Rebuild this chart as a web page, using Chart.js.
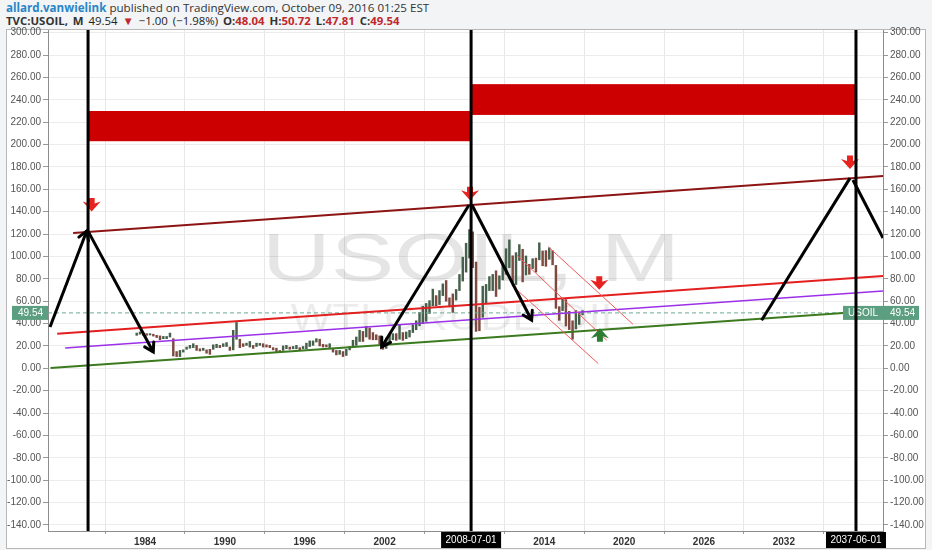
<!DOCTYPE html>
<html>
<head>
<meta charset="utf-8">
<script src="https://cdn.jsdelivr.net/npm/chart.js@4.4.0/dist/chart.umd.min.js"></script>
<style>
  body { margin:0; width:932px; height:550px; overflow:hidden; background:#f2f4f6; font-family:"Open Sans", "Liberation Sans", sans-serif; }
  .hdr { position:absolute; left:6px; color:#333; white-space:nowrap; }
  #hdr1 { top:0px; font-size:11.6px; }
  #hdr2 { top:13px; font-size:11.4px; font-weight:bold; color:#333; word-spacing:2px; }
  .user { color:#2a86c6; font-weight:bold; }
  .red { color:#c0282b; }
  .n { font-weight:normal; color:#222; }
  #frame { position:absolute; left:6px; top:29px; width:918px; height:518px; background:#fff; border:1px solid #b8b8b8; }
  #myChart { position:absolute; left:0; top:0; }
</style>
</head>
<body>
<div class="hdr" id="hdr1"><span class="user">allard.vanwielink</span> published on TradingView.com, October 09, 2016 01:25 EST</div>
<div class="hdr" id="hdr2">TVC:USOIL, M <span class="n">49.54</span> <span class="red">&#9660;</span> <span class="n">&minus;1.00 (&minus;1.98%)</span> O:<span class="red">48.04</span> H:<span class="red">50.72</span> L:<span class="red">47.81</span> C:<span class="red">49.54</span></div>
<div id="frame"></div>
<canvas id="myChart" width="932" height="550"></canvas>
<script>
// quarterly price range of WTI, first bar = 1983 Q2
const firstQuarter = 1983.25;
const priceLow = [
  29.5, 30.5, 29.5,            // 1983
  29.5, 29.8, 28.8, 27.5,      // 1984
  25.5, 26.5, 26.5, 28.0,      // 1985
  11.0, 10.5, 10.5, 14.5,      // 1986
  17.0, 18.0, 18.5, 16.0,      // 1987
  15.5, 16.0, 13.5, 12.5,      // 1988
  17.0, 18.5, 18.5, 19.5,      // 1989
  19.5, 16.0, 16.5, 26.0,      // 1990
  18.5, 19.5, 20.5, 19.0,      // 1991
  17.8, 19.5, 20.5, 19.0,      // 1992
  19.0, 18.5, 16.5, 14.0,      // 1993
  14.0, 16.0, 17.5, 17.0,      // 1994
  17.5, 17.5, 16.5, 17.5,      // 1995
  17.5, 19.5, 20.5, 23.5,      // 1996
  20.0, 19.0, 19.2, 18.5,      // 1997
  14.5, 12.0, 12.5, 10.5,      // 1998
  11.5, 16.5, 19.5, 20.5,      // 1999
  24.0, 24.0, 28.0, 26.0,      // 2000
  25.5, 25.5, 21.5, 17.0,      // 2001
  17.8, 23.5, 25.5, 25.0,      // 2002
  26.0, 25.0, 26.5, 28.0,      // 2003
  32.0, 34.5, 38.0, 40.0,      // 2004
  42.0, 49.0, 56.0, 56.0,      // 2005
  57.0, 65.0, 60.0, 55.0,      // 2006
  50.0, 61.0, 69.5, 78.0,      // 2007
  86.0, 98.6, 90.0, 33.0,      // 2008
  33.6, 45.6, 58.3, 69.5,      // 2009
  69.5, 64.2, 70.8, 79.0,      // 2010
  84.0, 90.0, 77.3, 74.9,      // 2011
  96.4, 77.3, 83.4, 84.0,      // 2012
  89.2, 86.0, 97.0, 91.7,      // 2013
  91.2, 97.4, 92.5, 53.6,      // 2014
  42.9, 51.6, 37.8, 34.6,      // 2015
  26.0, 35.2, 39.2, 47.8       // 2016
];
const priceHigh = [
  31.5, 32.5, 31.5,            // 1983
  31.0, 31.0, 30.5, 29.5,      // 1984
  29.0, 28.5, 28.5, 31.5,      // 1985
  26.5, 15.0, 16.0, 16.5,      // 1986
  19.0, 20.5, 22.0, 20.5,      // 1987
  17.5, 18.0, 16.5, 17.0,      // 1988
  21.0, 21.5, 20.5, 22.0,      // 1989
  23.0, 19.0, 34.0, 41.0,      // 1990
  26.0, 22.0, 22.5, 24.0,      // 1991
  20.5, 22.5, 22.3, 22.0,      // 1992
  21.0, 20.5, 18.5, 18.0,      // 1993
  16.0, 20.0, 20.5, 19.0,      // 1994
  19.5, 20.5, 18.5, 19.5,      // 1995
  22.5, 24.5, 24.5, 26.5,      // 1996
  26.0, 21.5, 21.0, 22.0,      // 1997
  18.0, 16.0, 16.0, 15.0,      // 1998
  17.0, 19.5, 25.0, 28.0,      // 1999
  34.0, 33.0, 37.5, 36.0,      // 2000
  32.0, 30.0, 29.0, 23.0,      // 2001
  27.0, 29.5, 31.0, 31.0,      // 2002
  39.0, 32.0, 32.5, 34.0,      // 2003
  39.0, 42.5, 50.0, 55.5,      // 2004
  58.0, 60.5, 70.8, 65.0,      // 2005
  69.5, 75.5, 78.5, 63.0,      // 2006
  66.5, 70.5, 83.9, 99.3,      // 2007
  111.8, 124.0, 122.0, 95.0,   // 2008
  54.7, 73.4, 75.0, 82.0,      // 2009
  83.9, 87.2, 82.7, 92.0,      // 2010
  106.9, 114.8, 100.6, 103.4,  // 2011
  110.6, 106.4, 100.4, 93.0,   // 2012
  98.0, 98.5, 112.2, 104.9,    // 2013
  105.2, 107.7, 105.1, 92.0,   // 2014
  55.1, 62.6, 61.5, 50.9,      // 2015
  42.5, 51.7, 49.2, 51.6       // 2016
];
const lastPrice = 49.54;

// axis ticks
const yTicks = [-140, -120, -100, -80, -60, -40, -20, 0, 20, 40, 60, 80, 100, 120, 140, 160, 180, 200, 220, 240, 260, 280, 300];
const xTickYears = [1984, 1990, 1996, 2002, 2008, 2014, 2020, 2026, 2032, 2038];
const markedDates = [2008.5, 2037.42];
const markedLabels = ['2008-07-01', '2037-06-01'];

// drawings: [year, price] pairs
const verticalYears = [1979.72, 2008.5, 2037.42];
const zones = [[1979.72, 2008.42, 203, 230], [2008.57, 2037.4, 226.5, 254]];
const topLine = [[1978.6, 121], [2039.45, 172]];
const redLine = [[1977.4, 31], [2039.45, 82.6]];
const purpleLine = [[1978.0, 18.2], [2039.45, 69.2]];
const greenLine = [[1976.9, 0.3], [2039.45, 52]];
const channelLines = [
  [[2014.3, 108.6], [2020.66, 39.4]],
  [[2011.93, 101.2], [2018.69, 25.1]],
  [[2011.55, 74.3], [2018.06, 4.2]]
];
const arrowLines = [
  [[1976.86, 37], [1979.62, 122.8]],
  [[1979.72, 122.6], [1984.62, 14.6]],
  [[2008.34, 146], [2001.78, 19.1]],
  [[2008.57, 146], [2013.05, 43]],
  [[2030.33, 43], [2036.97, 170]],
  [[2037.19, 168.3], [2039.45, 116.4]]
];
const arrowHeads = [true, true, true, true, false, false];
const downMarks = [[1979.99, 146], [2008.42, 156], [2036.97, 184], [2018.13, 76]];
const upMarks = [[2018.18, 30]];

const xMin = 1976.71, xMax = 2039.45, yMin = -145.4, yMax = 302.4;

const pts = arr => arr.map(p => ({x: p[0], y: p[1]}));
const bars = priceLow.map((lo, i) => ({x: firstQuarter + i * 0.25 + 0.125, y: [lo, priceHigh[i]]}));
const barColors = bars.map((b, i) => {
  if (i === 0) return '#46604c';
  const mid = (priceLow[i] + priceHigh[i]) / 2, prev = (priceLow[i - 1] + priceHigh[i - 1]) / 2;
  return mid >= prev ? '#46604c' : '#7e4a40';
});

function lineSet(data, color, width, order, dash) {
  return { type: 'line', data: pts(data), borderColor: color, borderWidth: width, pointRadius: 0,
           tension: 0, fill: false, order: order, borderDash: dash || [] };
}

const datasets = [
  { type: 'bar', data: bars, backgroundColor: barColors, barThickness: 1.8, grouped: false, order: 10 },
  lineSet([[xMin, lastPrice], [xMax, lastPrice]], '#6aab94', 1, 9, [4, 3]),
  lineSet(greenLine, '#3b7a1e', 2, 5),
  lineSet(purpleLine, '#9b30e8', 1.5, 5),
  lineSet(redLine, '#e3201f', 2, 5),
  lineSet(topLine, '#8e1414', 2, 5)
];
channelLines.forEach(l => datasets.push(lineSet(l, '#f05a5a', 1, 4)));
arrowLines.forEach(l => datasets.push(lineSet(l, '#000', 3, 2)));

function fitText(ctx, text, cx, cy, size, w, color) {
  ctx.font = size + 'px "Liberation Sans", Arial, sans-serif';
  const m = ctx.measureText(text).width;
  ctx.save();
  ctx.translate(cx, cy);
  ctx.scale(w / m, 1);
  ctx.fillStyle = color;
  ctx.textAlign = 'center';
  ctx.textBaseline = 'middle';
  ctx.fillText(text, 0, 0);
  ctx.restore();
}

function markArrow(ctx, x, y, up, color) {
  const s = up ? -1 : 1;
  ctx.save();
  ctx.translate(x, y);
  ctx.scale(1, s);
  ctx.fillStyle = color;
  ctx.beginPath();
  ctx.moveTo(-3, -7);
  ctx.lineTo(3, -7);
  ctx.lineTo(3, -1.5);
  ctx.lineTo(9, -3.5);
  ctx.lineTo(0, 6.5);
  ctx.lineTo(-9, -3.5);
  ctx.lineTo(-3, -1.5);
  ctx.closePath();
  ctx.fill();
  ctx.restore();
}

const drawings = {
  id: 'drawings',
  beforeDatasetsDraw(chart) {
    const {ctx, chartArea: a, scales: {x, y}} = chart;
    ctx.save();
    ctx.beginPath();
    ctx.rect(a.left, a.top, a.right - a.left, a.bottom - a.top);
    ctx.clip();
    fitText(ctx, 'USOIL, M', 471, 262, 68, 418, 'rgba(0,0,0,0.1)');
    fitText(ctx, 'WTI CRUDE OIL', 458, 320, 36, 335, 'rgba(0,0,0,0.075)');
    ctx.fillStyle = '#cc0000';
    zones.forEach(z => {
      const x0 = x.getPixelForValue(z[0]), x1 = x.getPixelForValue(z[1]);
      const y0 = y.getPixelForValue(z[3]), y1 = y.getPixelForValue(z[2]);
      ctx.fillRect(x0, y0, x1 - x0, y1 - y0);
    });
    ctx.restore();
  },
  afterDatasetsDraw(chart) {
    const {ctx, chartArea: a, scales: {x, y}} = chart;
    ctx.save();
    ctx.beginPath();
    ctx.rect(a.left, a.top, a.right - a.left, a.bottom - a.top);
    ctx.clip();
    // arrow heads
    ctx.strokeStyle = '#000';
    ctx.lineWidth = 3;
    ctx.lineCap = 'round';
    arrowLines.forEach((l, i) => {
      if (!arrowHeads[i]) return;
      const px0 = x.getPixelForValue(l[0][0]), py0 = y.getPixelForValue(l[0][1]);
      const px1 = x.getPixelForValue(l[1][0]), py1 = y.getPixelForValue(l[1][1]);
      const ang = Math.atan2(py1 - py0, px1 - px0);
      ctx.beginPath();
      ctx.moveTo(px1 + 10 * Math.cos(ang + 2.6), py1 + 10 * Math.sin(ang + 2.6));
      ctx.lineTo(px1, py1);
      ctx.lineTo(px1 + 10 * Math.cos(ang - 2.6), py1 + 10 * Math.sin(ang - 2.6));
      ctx.stroke();
    });
    downMarks.forEach(m => markArrow(ctx, x.getPixelForValue(m[0]), y.getPixelForValue(m[1]), false, '#e8221e'));
    upMarks.forEach(m => markArrow(ctx, x.getPixelForValue(m[0]), y.getPixelForValue(m[1]), true, '#2e7d32'));
    // symbol label inside plot
    const py = y.getPixelForValue(lastPrice);
    ctx.fillStyle = '#5c9e80';
    ctx.fillRect(843, py - 7, a.right - 843, 14);
    ctx.fillStyle = '#fff';
    ctx.font = '10px "Liberation Sans", Arial, sans-serif';
    ctx.textAlign = 'center';
    ctx.textBaseline = 'middle';
    ctx.fillText('USOIL', (843 + a.right) / 2, py + 0.5);
    // vertical marker lines
    ctx.strokeStyle = '#000';
    ctx.lineWidth = 3;
    ctx.lineCap = 'butt';
    verticalYears.forEach(v => {
      const px = x.getPixelForValue(v);
      ctx.beginPath();
      ctx.moveTo(px, a.top);
      ctx.lineTo(px, a.bottom);
      ctx.stroke();
    });
    ctx.restore();
  },
  afterDraw(chart) {
    const {ctx, chartArea: a, scales: {x, y}} = chart;
    ctx.save();
    ctx.font = '10px "Liberation Sans", Arial, sans-serif';
    ctx.textBaseline = 'middle';
    ctx.textAlign = 'center';
    markedDates.forEach((d, i) => {
      const px = x.getPixelForValue(d);
      ctx.fillStyle = '#000';
      ctx.fillRect(px - 30, a.bottom + 1, 60, 16);
      ctx.fillStyle = '#fff';
      ctx.fillText(markedLabels[i], px, a.bottom + 9.5);
    });
    const py = y.getPixelForValue(lastPrice);
    ctx.fillStyle = '#5c9e80';
    ctx.fillRect(12, py - 7, a.left - 12, 14);
    ctx.fillRect(a.right, py - 7, 36, 14);
    ctx.fillStyle = '#fff';
    ctx.textAlign = 'right';
    ctx.fillText(lastPrice.toFixed(2), a.left - 5, py + 0.5);
    ctx.textAlign = 'left';
    ctx.fillText(lastPrice.toFixed(2), a.right + 7, py + 0.5);
    ctx.restore();
  }
};

const yAxis = (pos, onArea, w) => ({
  type: 'linear', position: pos, min: yMin, max: yMax,
  afterBuildTicks: s => { s.ticks = yTicks.map(v => ({value: v})); },
  afterFit: s => { s.width = w; },
  ticks: { callback: v => v.toFixed(2), color: '#555', font: {size: 10, family: '"Liberation Sans", Arial, sans-serif'}, padding: 2 },
  grid: { color: '#ececec', drawOnChartArea: onArea, tickLength: 5, tickColor: '#999' },
  border: { color: '#8c8c8c' }
});

new Chart(document.getElementById('myChart').getContext('2d'), {
  type: 'bar',
  data: { datasets: datasets },
  options: {
    responsive: false,
    animation: false,
    layout: { padding: { left: 6, right: 6, top: 30, bottom: 2 } },
    plugins: { legend: { display: false }, tooltip: { enabled: false } },
    scales: {
      x: {
        type: 'linear', min: xMin, max: xMax, offset: false,
        afterBuildTicks: s => { s.ticks = xTickYears.map(v => ({value: v})); },
        afterFit: s => { s.height = 17; },
        ticks: { callback: v => (v === 2008 || v === 2038) ? '' : String(v), maxRotation: 0, autoSkip: false,
                 color: '#333', font: {size: 10, weight: 'bold', family: '"Liberation Sans", Arial, sans-serif'}, padding: 2 },
        grid: { color: '#e8e8e8', tickLength: 3, tickColor: '#999' },
        border: { color: '#8c8c8c' }
      },
      y: yAxis('left', true, 42),
      y2: yAxis('right', false, 43)
    }
  },
  plugins: [drawings]
});
</script>
</body>
</html>
